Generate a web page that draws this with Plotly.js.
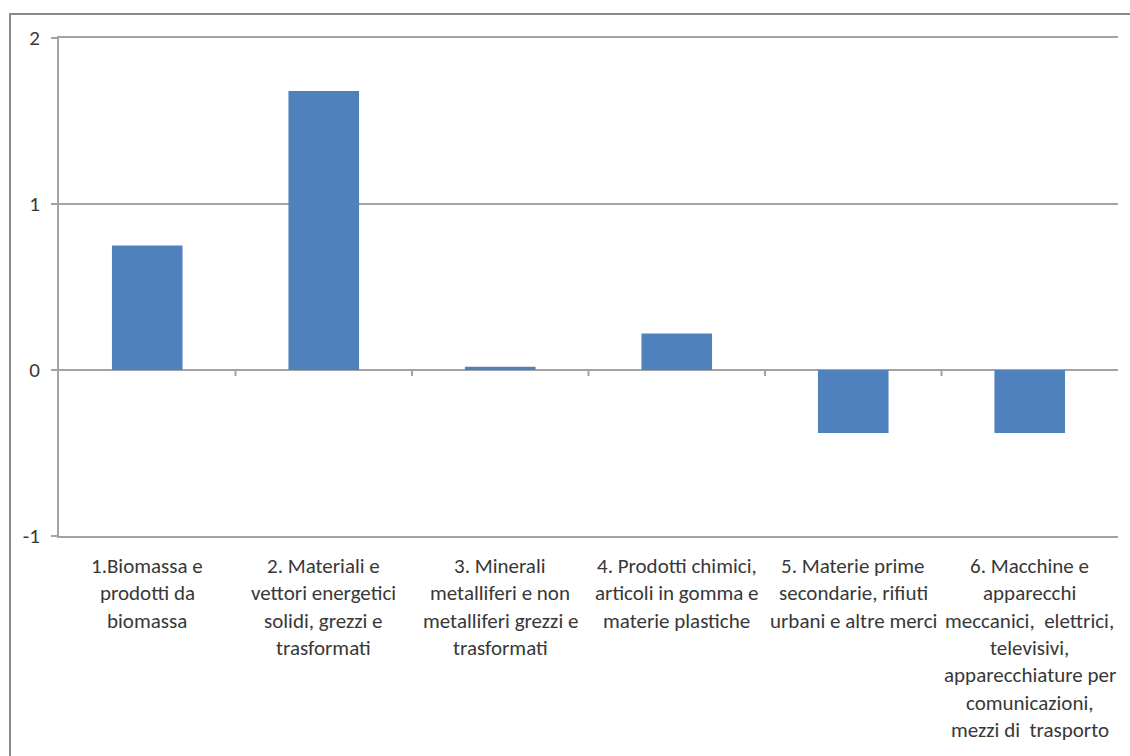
<!DOCTYPE html>
<html>
<head>
<meta charset="utf-8">
<script src="https://cdn.plot.ly/plotly-3.0.1.min.js"></script>
<style>
  html, body { margin: 0; padding: 0; background: #ffffff; overflow: hidden; }
  #wrap { position: relative; width: 1130px; height: 756px; }
  #chart { position: absolute; left: 0; top: 0; width: 1130px; height: 756px; }
  #frame { position: absolute; left: 9px; top: 13px; width: 1200px; height: 800px;
           border-left: 2px solid #8a8a8a; border-top: 2px solid #8a8a8a; pointer-events: none; }
</style>
</head>
<body>
<div id="wrap">
  <div id="chart"></div>
  <div id="frame"></div>
</div>
<script>
// ---- data ----
const categoryLines = [
  ["1.Biomassa e", "prodotti da", "biomassa"],
  ["2. Materiali e", "vettori energetici", "solidi, grezzi e", "trasformati"],
  ["3. Minerali", "metalliferi e non", "metalliferi grezzi e", "trasformati"],
  ["4. Prodotti chimici,", "articoli in gomma e", "materie plastiche"],
  ["5. Materie prime", "secondarie, rifiuti", "urbani e altre merci"],
  ["6. Macchine e", "apparecchi", "meccanici,  elettrici,", "televisivi,", "apparecchiature per", "comunicazioni,", "mezzi di  trasporto"]
];
const categories = categoryLines.map(l => l.join(" "));
const values = [0.75, 1.68, 0.02, 0.22, -0.38, -0.38];
const yTickVals = [-1, 0, 1, 2];
const yTickText = ["-1", "0", "1", "2"];

// ---- styling ----
const FONT = "Carlito, 'Liberation Sans', Arial, sans-serif";
const TEXT = "#383838";
const GRID = "#a3a3a3";
const BAR = "#4f81bd";

const trace = {
  type: "bar",
  x: categories,
  y: values,
  width: 0.4,
  marker: { color: BAR, line: { width: 0 } },
  hoverinfo: "x+y"
};

// category labels, one annotation per line
const annotations = [];
categoryLines.forEach((lines, i) => {
  lines.forEach((ln, k) => {
    annotations.push({
      xref: "x", yref: "paper", x: categories[i], y: 0,
      xanchor: "center", yanchor: "middle",
      yshift: -30 - 27.3 * k,
      text: ln, showarrow: false,
      font: { family: FONT, size: 21, color: TEXT }
    });
  });
});

// tick marks on the zero line at category boundaries
const shapes = [];
for (let i = 0; i < categories.length - 1; i++) {
  shapes.push({
    type: "line", xref: "x", yref: "y",
    x0: i + 0.5, x1: i + 0.5,
    ysizemode: "pixel", yanchor: 0, y0: 0, y1: -6,
    line: { color: GRID, width: 2 }
  });
}

const layout = {
  width: 1130, height: 756,
  margin: { l: 59, r: 12, t: 38, b: 220 },
  paper_bgcolor: "rgba(0,0,0,0)",
  plot_bgcolor: "#ffffff",
  showlegend: false,
  bargap: 0.6,
  font: { family: FONT, size: 21, color: TEXT },
  xaxis: {
    type: "category",
    showticklabels: false,
    ticks: "",
    showgrid: false,
    showline: true, mirror: true,
    linecolor: GRID, linewidth: 2,
    range: [-0.5, categories.length - 0.5],
    fixedrange: true
  },
  yaxis: {
    range: [-1, 2],
    tickvals: yTickVals, ticktext: yTickText,
    ticks: "outside", ticklen: 6, tickwidth: 2, tickcolor: GRID,
    showline: true, linecolor: GRID, linewidth: 2,
    showgrid: true, gridcolor: GRID, gridwidth: 2,
    zeroline: true, zerolinecolor: GRID, zerolinewidth: 2,
    ticklabelstandoff: 7,
    tickfont: { family: FONT, size: 21, color: TEXT },
    fixedrange: true
  },
  annotations: annotations,
  shapes: shapes
};

Plotly.newPlot("chart", [trace], layout, { displayModeBar: false, staticPlot: true });
</script>
</body>
</html>
